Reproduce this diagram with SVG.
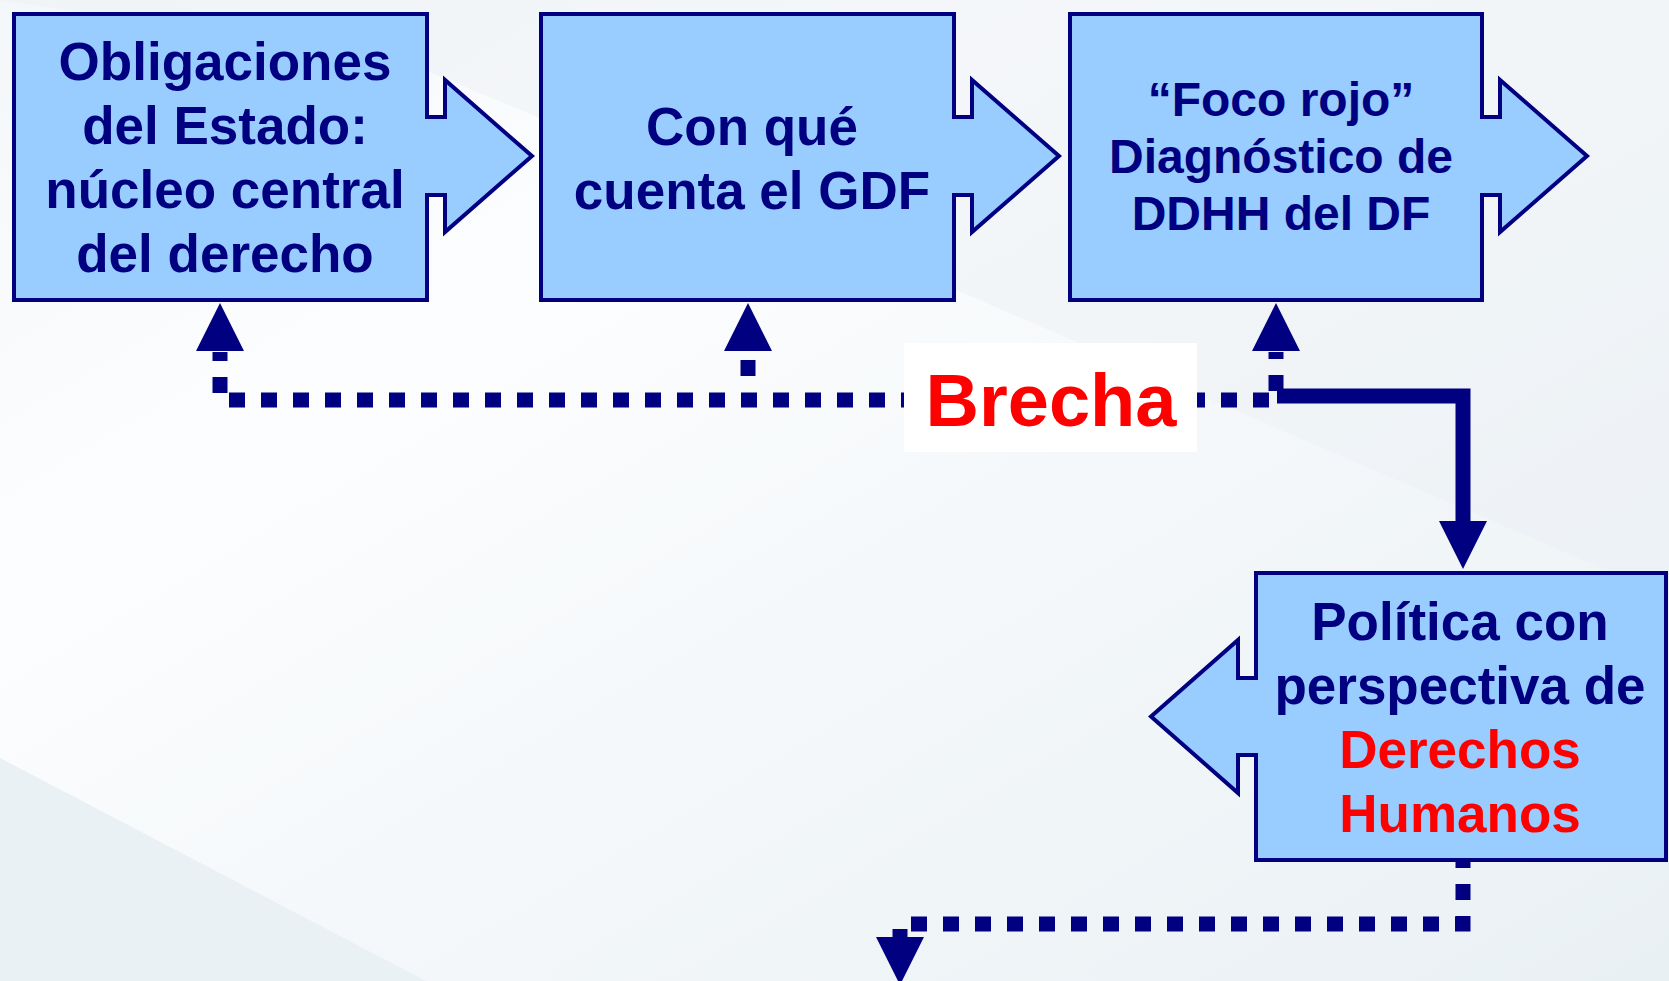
<svg xmlns="http://www.w3.org/2000/svg" width="1669" height="981" viewBox="0 0 1669 981">
<defs>
<linearGradient id="bg" x1="0" y1="0" x2="1" y2="1">
<stop offset="0" stop-color="#F4F7F9"/>
<stop offset="0.3" stop-color="#FCFDFE"/>
<stop offset="1" stop-color="#E9F0F4"/>
</linearGradient>
<style>
.box{fill:#99CCFF;stroke:#000080;stroke-width:4;stroke-linejoin:miter}
.t{font-family:"Liberation Sans",Arial,sans-serif;font-weight:bold;text-anchor:middle;fill:#000080}
.big{font-size:53px}
.mid{font-size:48px}
.red{fill:#FF0000}
.dot{fill:none;stroke:#000080;stroke-width:15;stroke-dasharray:16 16;stroke-linecap:butt;stroke-linejoin:miter}
.solid{fill:none;stroke:#000080;stroke-width:15;stroke-linejoin:miter}
.head{fill:#000080}
</style>
</defs>
<rect x="0" y="0" width="1669" height="981" fill="url(#bg)"/>
<polygon points="0,0 1669,0 1669,597 956,290 400,60 0,0" fill="#EAF0F4" opacity="0.45"/>
<polygon points="0,758 426,981 0,981" fill="#EAF1F5"/>

<g id="connectors">
<path class="dot" d="M1269,400 H220 V352"/>
<polygon class="head" points="196,351 244,351 220,303"/>
<path class="dot" d="M748,376 V352"/>
<polygon class="head" points="724,351 772,351 748,303"/>
<path class="dot" d="M1276,391 V352"/>
<polygon class="head" points="1252,351 1300,351 1276,303"/>
<path class="solid" d="M1277,396 H1463 V522"/>
<polygon class="head" points="1439,521 1487,521 1463,569"/>
<path class="dot" d="M1463,852 V924 H900 V938"/>
<polygon class="head" points="876,937 924,937 900,985"/>
</g>

<g id="brecha">
<rect x="904" y="343" width="293" height="109" fill="#FFFFFF"/>
<text class="t red" x="1051" y="426" font-size="74">Brecha</text>
</g>

<g id="node1">
<path class="box" d="M14,14 H427 V117 H445 V80 L532,156 L445,232 V195 H427 V300 H14 Z"/>
<text class="t big" x="225" y="80">Obligaciones</text>
<text class="t big" x="225" y="144">del Estado:</text>
<text class="t big" x="225" y="208">núcleo central</text>
<text class="t big" x="225" y="272">del derecho</text>
</g>

<g id="node2">
<path class="box" d="M541,14 H954 V117 H972 V80 L1059,156 L972,232 V195 H954 V300 H541 Z"/>
<text class="t big" x="752" y="145">Con qué</text>
<text class="t big" x="752" y="209">cuenta el GDF</text>
</g>

<g id="node3">
<path class="box" d="M1070,14 H1482 V117 H1500 V80 L1587,156 L1500,232 V195 H1482 V300 H1070 Z"/>
<text class="t mid" x="1281" y="116">“Foco rojo”</text>
<text class="t mid" x="1281" y="173">Diagnóstico de</text>
<text class="t mid" x="1281" y="230">DDHH del DF</text>
</g>

<g id="node4">
<path class="box" d="M1666,573 V860 H1256 V755 H1238 V793 L1151,716.5 L1238,640 V678 H1256 V573 Z"/>
<text class="t big" x="1460" y="640">Política con</text>
<text class="t big" x="1460" y="704">perspectiva de</text>
<text class="t big red" x="1460" y="768">Derechos</text>
<text class="t big red" x="1460" y="832">Humanos</text>
</g>
</svg>
